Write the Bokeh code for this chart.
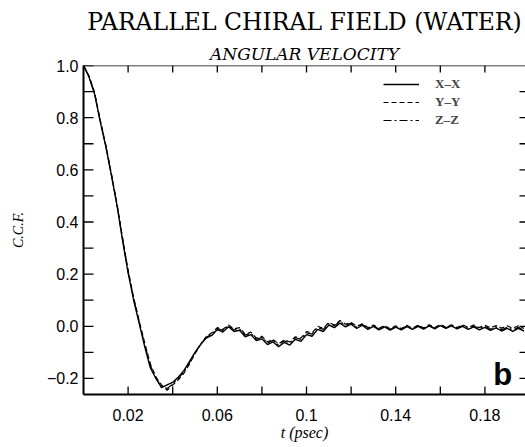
import math
from bokeh.plotting import figure
from bokeh.models import (LinearAxis, FixedTicker, Title, Legend, LegendItem, Label, Range1d, Span)
from bokeh.embed import file_html
from bokeh.resources import INLINE

t = [0.0000, 0.0025, 0.0050, 0.0075, 0.0100, 0.0125, 0.0150, 0.0175, 0.0200, 0.0225,
     0.0250, 0.0275, 0.0300, 0.0325, 0.0350, 0.0375, 0.0400, 0.0425, 0.0450, 0.0475,
     0.0500, 0.0525, 0.0550, 0.0575, 0.0600, 0.0625, 0.0650, 0.0675, 0.0700, 0.0725,
     0.0750, 0.0775, 0.0800, 0.0825, 0.0850, 0.0875, 0.0900, 0.0925, 0.0950, 0.0975,
     0.1000, 0.1025, 0.1050, 0.1075, 0.1100, 0.1125, 0.1150, 0.1175, 0.1200, 0.1225,
     0.1250, 0.1275, 0.1300, 0.1325, 0.1350, 0.1375, 0.1400, 0.1425, 0.1450, 0.1475,
     0.1500, 0.1525, 0.1550, 0.1575, 0.1600, 0.1625, 0.1650, 0.1675, 0.1700, 0.1725,
     0.1750, 0.1775, 0.1800, 0.1825, 0.1850, 0.1875, 0.1900, 0.1925, 0.1950, 0.1975]

xx = [1.000, 0.955, 0.890, 0.785, 0.690, 0.580, 0.465, 0.330, 0.205, 0.100,
      0.010, -0.080, -0.160, -0.200, -0.235, -0.225, -0.215, -0.195, -0.170, -0.135,
      -0.100, -0.070, -0.045, -0.035, -0.012, -0.022, -0.002, -0.020, -0.015, -0.040,
      -0.032, -0.055, -0.048, -0.070, -0.060, -0.078, -0.062, -0.072, -0.050, -0.058,
      -0.032, -0.038, -0.012, -0.020, 0.005, -0.005, 0.012, -0.002, 0.008, -0.008,
      0.004, -0.012, 0.000, -0.014, -0.002, -0.015, -0.003, -0.014, -0.001, -0.012,
      0.000, -0.011, 0.002, -0.010, 0.003, -0.008, 0.002, -0.010, 0.000, -0.012,
      -0.002, -0.014, -0.004, -0.016, -0.006, -0.018, -0.008, -0.019, -0.008, -0.018]

yy = [1.000, 0.960, 0.895, 0.790, 0.695, 0.585, 0.470, 0.340, 0.215, 0.110,
      0.020, -0.065, -0.145, -0.195, -0.225, -0.245, -0.225, -0.205, -0.180, -0.145,
      -0.105, -0.070, -0.040, -0.025, -0.005, -0.012, 0.005, -0.010, -0.005, -0.030,
      -0.022, -0.045, -0.038, -0.060, -0.050, -0.068, -0.052, -0.060, -0.040, -0.045,
      -0.020, -0.025, 0.000, -0.008, 0.015, 0.005, 0.022, 0.008, 0.015, 0.000,
      0.010, -0.005, 0.005, -0.008, 0.003, -0.010, 0.002, -0.009, 0.004, -0.008,
      0.005, -0.006, 0.006, -0.005, 0.007, -0.004, 0.006, -0.005, 0.006, -0.004,
      0.005, -0.005, 0.004, -0.006, 0.003, -0.007, 0.002, -0.008, 0.002, -0.008]

zz = [1.000, 0.958, 0.892, 0.788, 0.692, 0.582, 0.468, 0.336, 0.210, 0.105,
      0.015, -0.072, -0.150, -0.200, -0.232, -0.238, -0.222, -0.200, -0.175, -0.140,
      -0.102, -0.068, -0.042, -0.030, -0.008, -0.016, 0.002, -0.014, -0.010, -0.034,
      -0.026, -0.050, -0.042, -0.064, -0.054, -0.072, -0.056, -0.064, -0.044, -0.050,
      -0.025, -0.030, -0.005, -0.012, 0.010, 0.002, 0.018, 0.004, 0.012, -0.004,
      0.008, -0.008, 0.003, -0.011, 0.001, -0.012, 0.000, -0.011, 0.002, -0.010,
      0.003, -0.009, 0.004, -0.008, 0.005, -0.006, 0.004, -0.007, 0.003, -0.008,
      0.002, -0.009, 0.000, -0.011, -0.002, -0.013, -0.004, -0.014, -0.004, -0.013]

series_names = ["X\u2013X", "Y\u2013Y", "Z\u2013Z"]
x_ticks = [0.02, 0.06, 0.10, 0.14, 0.18]
x_all_ticks = [0.02, 0.04, 0.06, 0.08, 0.10, 0.12, 0.14, 0.16, 0.18]
x_labels = {0.02: "0.02", 0.06: "0.06", 0.1: "0.1", 0.14: "0.14", 0.18: "0.18"}
y_ticks = [-0.2, 0.0, 0.2, 0.4, 0.6, 0.8, 1.0]
y_all_ticks = [-0.2, -0.1, 0.0, 0.1, 0.2, 0.3, 0.4, 0.5, 0.6, 0.7, 0.8, 0.9]
y_labels = {-0.2: "\u22120.2", 0: "0.0", 0.2: "0.2", 0.4: "0.4", 0.6: "0.6", 0.8: "0.8", 1: "1.0"}

X0, X1 = 0.0, 0.1982
Y0, Y1 = -0.2615, 1.0

SANS = "Liberation Sans"
SERIF = "Liberation Serif"
DSERIF = "DejaVu Serif"

p = figure(frame_width=442, frame_height=329, output_backend="svg", toolbar_location=None,
           x_range=Range1d(X0, X1), y_range=Range1d(Y0, Y1),
           x_axis_location=None, y_axis_location=None,
           min_border_left=83, min_border_top=65, min_border_bottom=53, min_border_right=0)
p.outline_line_color = None
p.grid.visible = False
p.background_fill_color = "white"

def style(ax, ticks, labels):
    ax.ticker = FixedTicker(ticks=ticks)
    ax.major_tick_in = 0
    ax.major_tick_out = 0
    ax.minor_tick_in = 0
    ax.minor_tick_out = 0
    ax.axis_line_width = 2
    ax.axis_line_color = "black"
    ax.major_label_overrides = labels
    ax.major_label_text_font = SANS
    ax.major_label_text_font_size = "16px"
    ax.major_label_text_color = "black"

bottom = LinearAxis(axis_label="t (psec)")
style(bottom, x_ticks, x_labels)
bottom.major_label_standoff = 14
bottom.axis_label_text_font = SERIF
bottom.axis_label_text_font_style = "italic"
bottom.axis_label_text_font_size = "16px"
bottom.axis_label_text_color = "black"
bottom.axis_label_standoff = 0
p.add_layout(bottom, "below")

left = LinearAxis(axis_label="C.C.F.")
style(left, y_ticks, y_labels)
left.major_label_standoff = 5
left.axis_label_text_font = SERIF
left.axis_label_text_font_style = "italic"
left.axis_label_text_font_size = "14px"
left.axis_label_text_color = "black"
left.axis_label_standoff = 18
p.add_layout(left, "left")

# top frame line
p.add_layout(Span(location=Y1, dimension="width", line_color="black", line_width=1.6))

# inward tick marks on all four sides
p.ray(x=[X0] * len(y_all_ticks) + [X0], y=y_all_ticks + [1.0], length=10, angle=0,
      length_units="screen", line_color="black", line_width=1.3)
p.ray(x=x_all_ticks, y=[Y0] * len(x_all_ticks), length=8, angle=math.pi / 2,
      length_units="screen", line_color="black", line_width=1.3)
p.ray(x=x_all_ticks, y=[Y1] * len(x_all_ticks), length=7, angle=-math.pi / 2,
      length_units="screen", line_color="black", line_width=1.3)
p.ray(x=[X1] * len(y_all_ticks), y=y_all_ticks, length=6, angle=math.pi,
      length_units="screen", line_color="black", line_width=1.3)

p.add_layout(Title(text="ANGULAR VELOCITY", align="center", text_font=DSERIF,
                   text_font_style="italic", text_font_size="17px", text_color="black",
                   standoff=4), "above")
p.add_layout(Title(text="PARALLEL CHIRAL FIELD (WATER)", align="center", text_font=DSERIF,
                   text_font_style="normal", text_font_size="23.5px", text_color="black",
                   standoff=8), "above")

r1 = p.line(t, xx, line_color="black", line_width=1.4)
r2 = p.line(t, yy, line_color="black", line_width=1.2, line_dash="5 3")
r3 = p.line(t, zz, line_color="black", line_width=1.2, line_dash="8 3 2 3")

legend = Legend(items=[LegendItem(label=series_names[0], renderers=[r1]),
                       LegendItem(label=series_names[1], renderers=[r2]),
                       LegendItem(label=series_names[2], renderers=[r3])],
                location=(300, 266), orientation="vertical",
                label_text_font=SERIF, label_text_font_style="bold", label_text_font_size="13px",
                glyph_width=36, glyph_height=16, label_height=16, label_standoff=16,
                spacing=2, padding=4, margin=0,
                border_line_color=None, background_fill_alpha=0)
p.add_layout(legend, "center")

p.add_layout(Label(x=0.188, y=-0.184, text="b", text_font=SANS, text_font_style="bold",
                   text_font_size="31px", text_align="center", text_baseline="alphabetic",
                   text_color="black"))

open("out.html", "w").write(file_html(p, INLINE))
